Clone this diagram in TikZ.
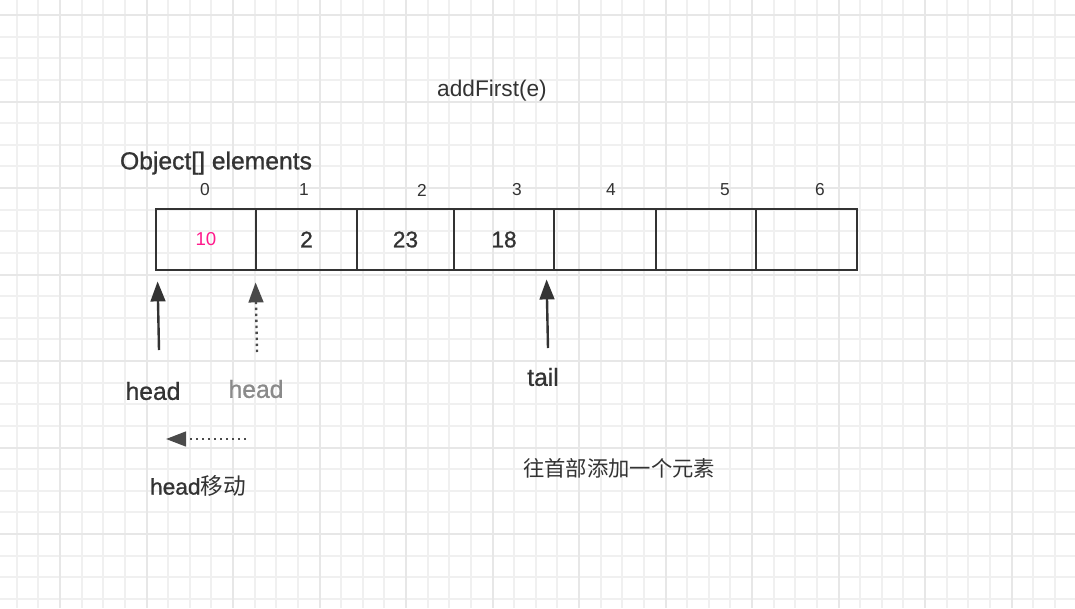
\documentclass[tikz,border=0pt]{standalone}
\usepackage{fontspec}
\setmainfont{Liberation Sans}
\newfontfamily\semib[FakeBold=0.9]{Liberation Sans}
\newfontfamily\cjk{Noto Sans CJK SC}
\usetikzlibrary{arrows.meta, positioning}
\definecolor{inkgray}{HTML}{333333}
\definecolor{softgray}{HTML}{8A8A8A}
\definecolor{dotgray}{HTML}{4A4A4A}
\definecolor{pinkred}{HTML}{FF1A8C}
\definecolor{gridminor}{HTML}{F0F0F0}
\definecolor{gridmajor}{HTML}{E7E7E7}

\tikzset{
  cell/.style={draw=inkgray, line width=2.1pt, minimum height=45.75pt, inner sep=0pt,
    text=inkgray, font=\semib\fontsize{17}{19}\selectfont},
  idx/.style={text=inkgray, font=\fontsize{13}{15}\selectfont},
  lbl/.style={text=inkgray, font=\semib\fontsize{18.5}{20}\selectfont},
  ptr/.style={draw=inkgray, line width=1.8pt, -{Triangle[length=15pt,width=11pt]}},
  ptrdot/.style={ptr, draw=dotgray, dash pattern=on 1.8pt off 2.7pt}
}

\begin{document}
\begin{tikzpicture}[x=0.75pt, y=-0.75pt]
		\useasboundingbox (0,0) rectangle (1075,608);
		\fill[white] (0,0) rectangle (1075,608);
		% grid paper
		\foreach \i in {-2,...,46}
			\draw[gridminor, line width=1pt] ({round(60+21.625*\i)},0) -- ({round(60+21.625*\i)},608);
		\foreach \j in {0,...,27}
			\draw[gridminor, line width=1pt] (0,{round(15+21.625*\j)}) -- (1075,{round(15+21.625*\j)});
		\foreach \i in {0,...,11}
			\draw[gridmajor, line width=1.3pt] ({round(60+86.5*\i)},0) -- ({round(60+86.5*\i)},608);
		\foreach \j in {0,...,6}
			\draw[gridmajor, line width=1.3pt] (0,{round(15+86.5*\j)}) -- (1075,{round(15+86.5*\j)});
		
		\node[text=inkgray, font=\fontsize{17}{19}\selectfont] (title) at (492,91) {addFirst(e)};
		\node[lbl] (arrname) at (216,163) {Object[] elements};
		
		% the array cells
		\node[cell, minimum width=75pt] (c0) at (206,239.5) {\textcolor{pinkred}{\normalfont\fontsize{14}{16}\selectfont 10}};
		\node[cell, minimum width=75.75pt] (c1) at (306.5,239.5) {2};
		\node[cell, minimum width=72.75pt] (c2) at (405.5,239.5) {23};
		\node[cell, minimum width=75pt] (c3) at (504,239.5) {18};
		\node[cell, minimum width=76.5pt] (c4) at (605,239.5) {};
		\node[cell, minimum width=75pt] (c5) at (706,239.5) {};
		\node[cell, minimum width=75.75pt] (c6) at (806.5,239.5) {};
		
		% indices
		\foreach \n/\x in {0/205, 1/304, 2/422, 3/517, 4/611, 5/725, 6/820}
			\node[idx] (i\n) at (\x,190) {\n};
		
		% pointers
		\coordinate (headtip) at ([shift={(3,10)}]c0.south west);
		\coordinate (headfoot) at (159,350);
		\draw[ptr] (headfoot) -- (headtip);
		\coordinate (oldtip) at ([shift={(1,11)}]c1.south west);
		\coordinate (oldfoot) at (257,352);
		\draw[ptrdot] (oldfoot) -- (oldtip);
		\coordinate (tailtip) at ([shift={(-6,8)}]c4.south west);
		\coordinate (tailfoot) at (548,348);
		\draw[ptr] (tailfoot) -- (tailtip);
		
		\node[lbl] (headlbl) at (153,391) {head};
		\node[lbl, text=softgray] (oldlbl) at (256,389) {head};
		\node[lbl] (taillbl) at (543,377) {tail};
		
		% head moves left
		\coordinate (movestart) at (246,439);
		\coordinate (moveend) at (166,439);
		\draw[ptrdot] (movestart) -- (moveend);
		\node[text=inkgray, font=\semib\fontsize{17}{19}\selectfont] (movelbl) at (198,486) {head\cjk 移动};
		\node[text=inkgray, font=\cjk\fontsize{16}{18}\selectfont] (note) at (619,468) {往首部添加一个元素};
\end{tikzpicture}
\end{document}
